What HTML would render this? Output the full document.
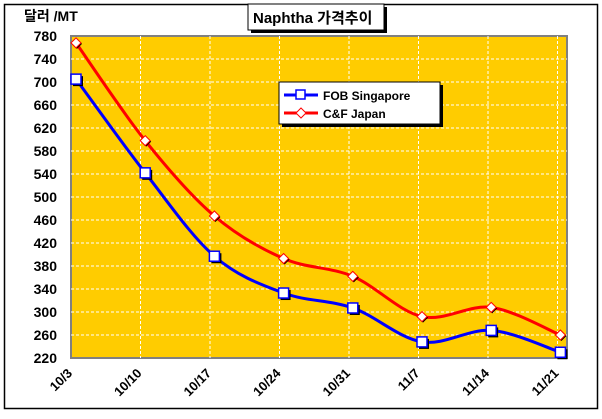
<!DOCTYPE html>
<html><head><meta charset="utf-8"><style>
body{margin:0;background:#fff;}
svg text{font-family:"Liberation Sans","Noto Sans CJK KR",sans-serif;font-weight:bold;}
</style></head><body>
<svg id="s" width="602" height="414" xmlns="http://www.w3.org/2000/svg">
<rect x="4.5" y="4.5" width="593" height="404" fill="#fff" stroke="#000" stroke-width="1.5"/>
<rect x="71" y="36" width="496" height="322" fill="#FFCC00" stroke="#808080" stroke-width="2"/>
<g id="grid" stroke="#fff" stroke-dasharray="3,2" stroke-width="1"></g>
<g id="ylab" font-size="14" text-anchor="end" fill="#000"></g>
<g id="xlab" font-size="13" fill="#000"></g>
<g id="series"></g>
<text x="24" y="21" font-size="14">달러 /MT</text>
<rect x="251" y="7" width="136" height="26" fill="#000"/>
<rect x="248" y="4" width="136" height="26" fill="#fff" stroke="#000"/>
<text x="253" y="23" font-size="15">Naphtha 가격추이</text>
<rect x="282" y="85" width="161" height="42" fill="#000"/>
<rect x="279" y="82" width="161" height="42" fill="#fff" stroke="#000"/>
<line x1="284" y1="95" x2="318" y2="95" stroke="#0000FF" stroke-width="3"/>
<rect x="296" y="90" width="9" height="9" fill="#fff" stroke="#0000FF" stroke-width="1.5"/>
<text x="323" y="100" font-size="12">FOB Singapore</text>
<line x1="284" y1="113" x2="318" y2="113" stroke="#FF0000" stroke-width="3"/>
<path d="M301 108 L306 113 L301 118 L296 113Z" fill="#fff" stroke="#FF0000"/>
<text x="323" y="118" font-size="12">C&amp;F Japan</text>
</svg>
<script>
var NS="http://www.w3.org/2000/svg";
function el(p,t,a){var e=document.createElementNS(NS,t);for(var k in a)e.setAttribute(k,a[k]);p.appendChild(e);return e;}
var Y=function(v){return 358-(v-220)*322/560;};
var g=document.getElementById('grid');
for(var v=260;v<=740;v+=40)el(g,'line',{x1:71,x2:567,y1:Y(v),y2:Y(v)});
for(var i=1;i<=7;i++){var x=71+69.5*i;el(g,'line',{x1:x,x2:x,y1:36,y2:358});}
var yl=document.getElementById('ylab');
for(var v=220;v<=780;v+=40){var t=el(yl,'text',{x:57,y:Y(v)+5});t.textContent=v;}
var labs=['10/3','10/10','10/17','10/24','10/31','11/7','11/14','11/21'];
var xl=document.getElementById('xlab');
var X=function(i){return 76+69.2*i;};
labs.forEach(function(l,i){var x=71+69.5*i+2,y=374;var t=el(xl,'text',{x:x,y:y,'text-anchor':'end',transform:'rotate(-45 '+x+' '+y+')'});t.textContent=l;});
function path(d){var p=d.map(function(v,i){return[X(i),Y(v)];});var s='M'+p[0][0]+' '+p[0][1];
for(var i=0;i<p.length-1;i++){var p0=p[i-1]||p[i],p1=p[i],p2=p[i+1],p3=p[i+2]||p2;var t=0.5/3;
s+=' C'+(p1[0]+(p2[0]-p0[0])*t)+' '+(p1[1]+(p2[1]-p0[1])*t)+' '+(p2[0]-(p3[0]-p1[0])*t)+' '+(p2[1]-(p3[1]-p1[1])*t)+' '+p2[0]+' '+p2[1];}return s;}
var S=document.getElementById('series');
var fob=[705,542,397,333,307,248,268,230],cf=[768,598,467,393,362,292,308,260];
el(S,'path',{d:path(cf),fill:'none',stroke:'#FF0000','stroke-width':3});
el(S,'path',{d:path(fob),fill:'none',stroke:'#0000FF','stroke-width':3});
cf.forEach(function(v,i){var x=X(i),y=Y(v);el(S,'path',{d:'M'+(x+1)+' '+(y-4)+' l5 5 l-5 5 l-5 -5z',fill:'#000'});el(S,'path',{d:'M'+x+' '+(y-5)+' l5 5 l-5 5 l-5 -5z',fill:'#fff',stroke:'#FF0000'});});
fob.forEach(function(v,i){var x=X(i),y=Y(v);el(S,'rect',{x:x-3,y:y-3,width:10,height:10,fill:'#000'});el(S,'rect',{x:x-5,y:y-5,width:10,height:10,fill:'#fff',stroke:'#0000FF','stroke-width':1.5});});
</script>
</body></html>
